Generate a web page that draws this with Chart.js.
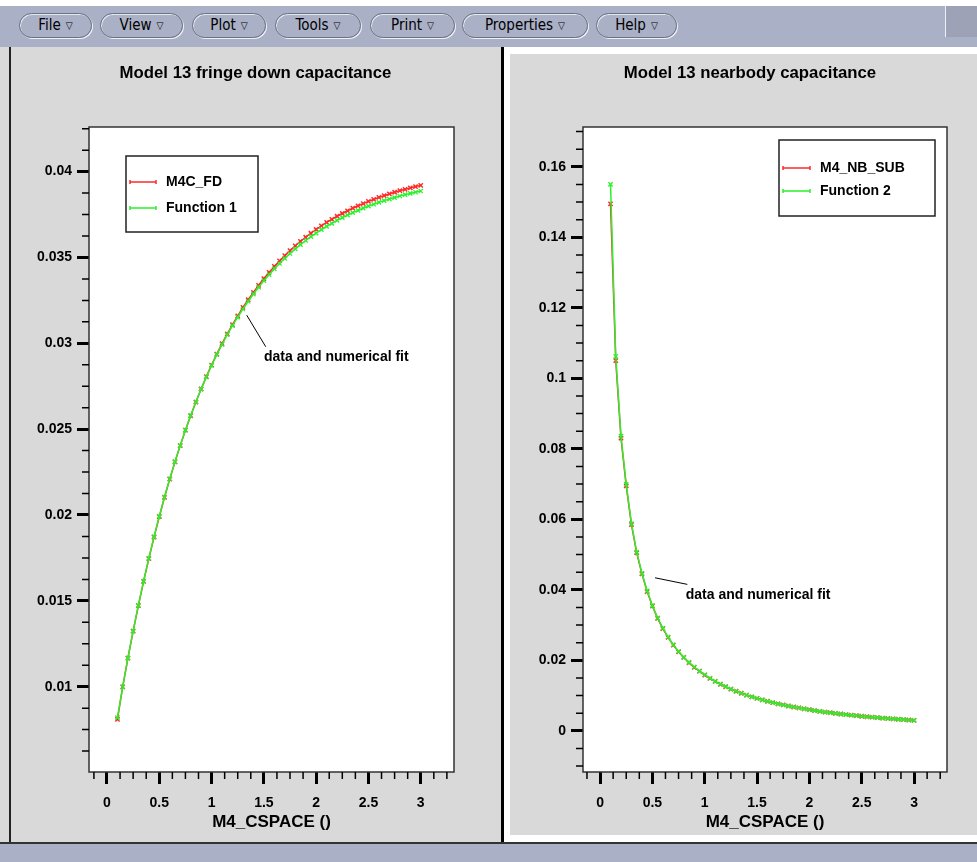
<!DOCTYPE html>
<html>
<head>
<meta charset="utf-8">
<title>Model 13 capacitance</title>
<script src="https://cdn.jsdelivr.net/npm/chart.js@4.4.1/dist/chart.umd.min.js"></script>
<style>
  body { margin: 0; width: 977px; height: 862px; overflow: hidden; position: relative; background: #fff; }
  .box { position: absolute; }
  #menubar { left: 0; top: 6px; width: 977px; height: 41px; background: #aab0c6; }
  .pill { position: absolute; top: 7px; height: 25px; box-sizing: border-box; border: 1px solid #6c7084; border-radius: 13px;
          box-shadow: inset 1px 1px 0 #e6e8f0, 1px 1px 0 #eef0f6; font: 15px 'DejaVu Sans Condensed', 'DejaVu Sans', sans-serif;
          line-height: 22px; text-align: center; color: #000; }
  .pill span { font-size: 10px; vertical-align: 1px; margin-left: 5px; }
  #corner { left: 945px; top: 6px; width: 32px; height: 31px; background: #9da2b6; border-left: 1px solid #eef0f6; }
  #leftPanel { left: 0; top: 47px; width: 501px; height: 796px; background: #d9d9d9; }
  #leftEdge { left: 9px; top: 47px; width: 2px; height: 796px; background: #222; }
  #divider { left: 501px; top: 47px; width: 3px; height: 796px; background: #000; }
  #rightFrame { left: 504px; top: 47px; width: 473px; height: 796px; background: #fff; }
  #rightPanel { left: 510px; top: 54px; width: 467px; height: 781px; background: #d9d9d9; }
  #bottomLine { left: 0; top: 842px; width: 977px; height: 2px; background: #333; }
  #statusbar { left: 0; top: 844px; width: 977px; height: 18px; background: #aab0c6; }
  canvas { position: absolute; top: 47px; }
  #leftChart { left: 10px; width: 491px; height: 796px; }
  #rightChart { left: 510px; width: 480px; height: 796px; }
</style>
</head>
<body>
<div id="menubar" class="box">
  <div class="pill" style="left:19px;width:73px">File<span>▽</span></div>
  <div class="pill" style="left:100px;width:83px">View<span>▽</span></div>
  <div class="pill" style="left:192px;width:74px">Plot<span>▽</span></div>
  <div class="pill" style="left:275px;width:86px">Tools<span>▽</span></div>
  <div class="pill" style="left:370px;width:85px">Print<span>▽</span></div>
  <div class="pill" style="left:462px;width:126px">Properties<span>▽</span></div>
  <div class="pill" style="left:596px;width:81px">Help<span>▽</span></div>
</div>
<div id="corner" class="box"></div>
<div id="leftPanel" class="box"></div>
<div id="leftEdge" class="box"></div>
<div id="divider" class="box"></div>
<div id="rightFrame" class="box"></div>
<div id="rightPanel" class="box"></div>
<div id="bottomLine" class="box"></div>
<div id="statusbar" class="box"></div>

<canvas id="leftChart" width="491" height="796"></canvas>
<canvas id="rightChart" width="480" height="796"></canvas>

<script>
// M4_CSPACE sample points (same for both plots)
const xSpace = [0.1, 0.15, 0.2, 0.25, 0.3, 0.35, 0.4, 0.45, 0.5, 0.55, 0.6, 0.65, 0.7, 0.75, 0.8, 0.85, 0.9, 0.95, 1.0,
    1.05, 1.1, 1.15, 1.2, 1.25, 1.3, 1.35, 1.4, 1.45, 1.5, 1.55, 1.6, 1.65, 1.7, 1.75, 1.8, 1.85, 1.9, 1.95, 2.0,
    2.05, 2.1, 2.15, 2.2, 2.25, 2.3, 2.35, 2.4, 2.45, 2.5, 2.55, 2.6, 2.65, 2.7, 2.75, 2.8, 2.85, 2.9, 2.95, 3.0];

// fringe down capacitance: data (M4C_FD) and fit (Function 1)
const fdVals = [0.0081, 0.00999, 0.01166, 0.01323, 0.01472, 0.01613, 0.01746, 0.01871, 0.0199, 0.02103, 0.02209,
    0.02309, 0.02404, 0.02494, 0.02578, 0.02658, 0.02734, 0.02806, 0.02873, 0.02937, 0.02998, 0.03055, 0.03109,
    0.0316, 0.03209, 0.03254, 0.03297, 0.03338, 0.03377, 0.03413, 0.03448, 0.0348, 0.03511, 0.0354, 0.03568,
    0.03594, 0.03618, 0.03641, 0.03663, 0.03684, 0.03704, 0.03722, 0.0374, 0.03756, 0.03772, 0.03787, 0.03801,
    0.03814, 0.03827, 0.03838, 0.0385, 0.0386, 0.0387, 0.0388, 0.03889, 0.03897, 0.03905, 0.03913, 0.0392];
const fn1Vals = [0.0082, 0.00998, 0.01166, 0.01324, 0.01474, 0.01615, 0.01748, 0.01874, 0.01993, 0.02105, 0.02211,
    0.02311, 0.02405, 0.02494, 0.02579, 0.02658, 0.02733, 0.02804, 0.02871, 0.02934, 0.02993, 0.0305, 0.03103,
    0.03153, 0.032, 0.03245, 0.03287, 0.03327, 0.03365, 0.034, 0.03434, 0.03465, 0.03495, 0.03523, 0.0355,
    0.03575, 0.03599, 0.03621, 0.03642, 0.03662, 0.03681, 0.03699, 0.03716, 0.03732, 0.03747, 0.03761, 0.03774,
    0.03787, 0.03799, 0.0381, 0.03821, 0.03831, 0.0384, 0.03849, 0.03858, 0.03866, 0.03873, 0.0388, 0.03887];

// nearbody capacitance: data (M4_NB_SUB) and fit (Function 2)
const nbVals = [0.1495, 0.105, 0.083, 0.0695, 0.0585, 0.0505, 0.0445, 0.0395, 0.0354, 0.0319, 0.029, 0.0265,
    0.0243, 0.0224, 0.0208, 0.0193, 0.018, 0.0169, 0.0158, 0.01485, 0.014, 0.0132, 0.01248, 0.01182, 0.01121,
    0.01064, 0.01012, 0.00963, 0.00918, 0.00876, 0.00837, 0.008, 0.00765, 0.00733, 0.00702, 0.00674, 0.00647,
    0.00621, 0.00597, 0.00574, 0.00552, 0.00531, 0.00512, 0.00493, 0.00475, 0.00459, 0.00442, 0.00427, 0.00412,
    0.00398, 0.00385, 0.00372, 0.0036, 0.00348, 0.00337, 0.00326, 0.00316, 0.00306, 0.00297];
const fn2Vals = [0.155, 0.1062, 0.0836, 0.0699, 0.0588, 0.0507, 0.0447, 0.0397, 0.0355, 0.032, 0.0291, 0.0266,
    0.0244, 0.0225, 0.0208, 0.0194, 0.0181, 0.0169, 0.0159, 0.0149, 0.01403, 0.01322, 0.0125, 0.01183, 0.01122,
    0.01065, 0.01012, 0.00963, 0.00918, 0.00876, 0.00836, 0.00799, 0.00764, 0.00732, 0.00701, 0.00673, 0.00646,
    0.0062, 0.00596, 0.00573, 0.00551, 0.0053, 0.0051, 0.00492, 0.00474, 0.00457, 0.00441, 0.00426, 0.00411,
    0.00397, 0.00383, 0.00371, 0.00359, 0.00347, 0.00336, 0.00325, 0.00315, 0.00305, 0.00296];

// tick labels
const xTickVals = [0, 0.5, 1, 1.5, 2, 2.5, 3];
const fdTickVals = [0.01, 0.015, 0.02, 0.025, 0.03, 0.035, 0.04];
const nbTickVals = [0, 0.02, 0.04, 0.06, 0.08, 0.1, 0.12, 0.14, 0.16];

const RED = '#ff2a2a';
const GREEN = '#2cf02c';
const FONT = "'Liberation Sans', Arial, Helvetica, sans-serif";

function points(ys) {
    return xSpace.map((x, i) => ({ x: x, y: ys[i] }));
}

function tickLabel(v) {
    return String(parseFloat(Number(v).toFixed(4)));
}

// white plot area, frame, minor ticks, boxed legend and the note
const framePlugin = {
    id: 'frame',
    beforeDraw(chart) {
        const { ctx, chartArea: a } = chart;
        ctx.save();
        ctx.fillStyle = '#fff';
        ctx.fillRect(a.left, a.top, a.right - a.left, a.bottom - a.top);
        ctx.restore();
    },
    afterDraw(chart, args, o) {
        const { ctx, chartArea: a, scales } = chart;
        const xs = scales.x, ys = scales.y;
        ctx.save();

        ctx.strokeStyle = '#333';
        ctx.lineWidth = 1.5;
        ctx.strokeRect(a.left, a.top, a.right - a.left, a.bottom - a.top);

        // minor ticks (every 4th step is a major tick drawn by the scale)
        ctx.strokeStyle = '#000';
        ctx.lineWidth = 1.5;
        ctx.beginPath();
        for (let i = Math.ceil(xs.min / o.xMinor); i * o.xMinor <= xs.max; i++) {
            if (i % 4 === 0) continue;
            const px = xs.getPixelForValue(i * o.xMinor);
            ctx.moveTo(px, a.bottom);
            ctx.lineTo(px, a.bottom + 7);
        }
        for (let i = Math.ceil(ys.min / o.yMinor); i * o.yMinor <= ys.max; i++) {
            if (i % 4 === 0) continue;
            const py = ys.getPixelForValue(i * o.yMinor);
            ctx.moveTo(a.left - 7, py);
            ctx.lineTo(a.left, py);
        }
        ctx.stroke();

        // legend box
        const L = o.legend;
        ctx.fillStyle = '#fff';
        ctx.fillRect(a.left + L.x, a.top + L.y, L.w, L.h);
        ctx.strokeStyle = '#222';
        ctx.lineWidth = 1.5;
        ctx.strokeRect(a.left + L.x, a.top + L.y, L.w, L.h);
        ctx.font = 'bold 14px ' + FONT;
        ctx.textBaseline = 'middle';
        ctx.textAlign = 'left';
        chart.data.datasets.forEach((ds, i) => {
            const yy = a.top + L.rows[i];
            const x1 = a.left + L.x1, x2 = a.left + L.x2;
            ctx.strokeStyle = ds.borderColor;
            ctx.lineWidth = 1.5;
            ctx.beginPath();
            ctx.moveTo(x1, yy);
            ctx.lineTo(x2, yy);
            ctx.moveTo(x1, yy - 2);
            ctx.lineTo(x1, yy + 2);
            ctx.moveTo(x2, yy - 2);
            ctx.lineTo(x2, yy + 2);
            ctx.stroke();
            ctx.fillStyle = '#000';
            ctx.fillText(ds.label, a.left + L.tx, yy);
        });

        // note with pointer line
        const n = o.note;
        ctx.strokeStyle = '#000';
        ctx.lineWidth = 1;
        ctx.beginPath();
        ctx.moveTo(xs.getPixelForValue(n.x1), ys.getPixelForValue(n.y1));
        ctx.lineTo(xs.getPixelForValue(n.x2), ys.getPixelForValue(n.y2));
        ctx.stroke();
        ctx.fillStyle = '#000';
        ctx.fillText(n.text, xs.getPixelForValue(n.tx), ys.getPixelForValue(n.ty));

        ctx.restore();
    }
};

function makeChart(id, cfg) {
    const tickFont = { family: FONT, size: 14, weight: 'bold' };
    const majorGrid = { drawOnChartArea: false, drawTicks: true, tickLength: 12, tickWidth: 3, tickColor: '#000' };
    return new Chart(document.getElementById(id), {
        type: 'line',
        data: {
            datasets: [{
                label: cfg.dataLabel,
                data: points(cfg.dataVals),
                borderColor: RED,
                backgroundColor: RED,
                borderWidth: 1.5,
                pointStyle: 'crossRot',
                pointRadius: 3,
                pointBorderWidth: 1.5,
                tension: 0,
                order: 1
            }, {
                label: cfg.fitLabel,
                data: points(cfg.fitVals),
                borderColor: GREEN,
                backgroundColor: GREEN,
                borderWidth: 1.5,
                pointStyle: 'crossRot',
                pointRadius: 3,
                pointBorderWidth: 1.3,
                tension: 0,
                order: 0
            }]
        },
        options: {
            responsive: false,
            animation: false,
            devicePixelRatio: 1,
            layout: { padding: 0 },
            plugins: {
                legend: { display: false },
                tooltip: { enabled: false },
                title: {
                    display: true,
                    text: cfg.title,
                    color: '#000',
                    font: { family: FONT, size: 16.75, weight: 'bold' },
                    padding: { top: 16, bottom: 43.9 }
                },
                frame: { xMinor: 0.125, yMinor: cfg.yMinor, legend: cfg.legend, note: cfg.note }
            },
            scales: {
                x: {
                    type: 'linear',
                    min: cfg.xMin,
                    max: cfg.xMax,
                    afterFit: s => { s.height = 71; },
                    afterBuildTicks: s => { s.ticks = xTickVals.map(v => ({ value: v })); },
                    grid: majorGrid,
                    border: { display: false },
                    ticks: { autoSkip: false, maxRotation: 0, padding: 11, color: '#000', font: tickFont, callback: tickLabel },
                    title: {
                        display: true,
                        text: 'M4_CSPACE ()',
                        color: '#000',
                        font: { family: FONT, size: 17, weight: 'bold' },
                        padding: { top: 0, bottom: 10 }
                    }
                },
                y: {
                    type: 'linear',
                    min: cfg.yMin,
                    max: cfg.yMax,
                    afterFit: s => { s.width = cfg.yWidth; },
                    afterBuildTicks: s => { s.ticks = cfg.yTicks.map(v => ({ value: v })); },
                    grid: majorGrid,
                    border: { display: false },
                    ticks: { autoSkip: false, padding: 5, color: '#000', font: tickFont, callback: tickLabel }
                },
                // empty strip on the right so the title stays centred on the panel
                gap: {
                    type: 'linear',
                    position: 'right',
                    afterFit: s => { s.width = cfg.rightGap; },
                    grid: { display: false },
                    border: { display: false },
                    ticks: { display: false }
                }
            }
        },
        plugins: [framePlugin]
    });
}

makeChart('leftChart', {
    title: 'Model 13 fringe down capacitance',
    dataLabel: 'M4C_FD',
    fitLabel: 'Function 1',
    dataVals: fdVals,
    fitVals: fn1Vals,
    yTicks: fdTickVals,
    yWidth: 79,
    rightGap: 47,
    xMin: -0.172, xMax: 3.318,
    yMin: 0.00503, yMax: 0.0426,
    yMinor: 0.00125,
    legend: { x: 37, y: 29, w: 132, h: 76, rows: [55, 81], x1: 41, x2: 67, tx: 77 },
    note: { x1: 1.336, y1: 0.03164, x2: 1.518, y2: 0.0298, tx: 1.501, ty: 0.0292, text: 'data and numerical fit' }
});

makeChart('rightChart', {
    title: 'Model 13 nearbody capacitance',
    dataLabel: 'M4_NB_SUB',
    fitLabel: 'Function 2',
    dataVals: nbVals,
    fitVals: fn2Vals,
    yTicks: nbTickVals,
    yWidth: 73,
    rightGap: 43,
    xMin: -0.163, xMax: 3.315,
    yMin: -0.0117, yMax: 0.1713,
    yMinor: 0.005,
    legend: { x: 196, y: 13, w: 156, h: 76, rows: [41, 64], x1: 200, x2: 227, tx: 237 },
    note: { x1: 0.5255, y1: 0.0434, x2: 0.834, y2: 0.04153, tx: 0.819, ty: 0.03841, text: 'data and numerical fit' }
});
</script>
</body>
</html>
